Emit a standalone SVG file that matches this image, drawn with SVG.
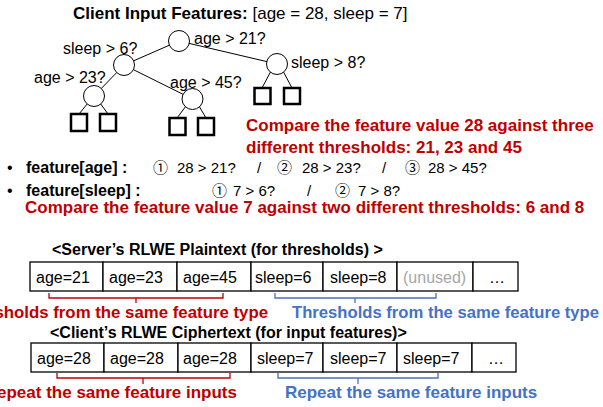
<svg xmlns="http://www.w3.org/2000/svg" width="603" height="407" viewBox="0 0 603 407">
<style>
text{font-family:"Liberation Sans",Arial,sans-serif;fill:#000}
.lbl{font-size:16px}
.b{font-weight:bold}
.red{fill:#C00000;font-weight:bold;font-size:17px}
.blue{fill:#4472C4;font-weight:bold;font-size:17px}
.cd{font-family:"Noto Sans CJK JP","DejaVu Sans",sans-serif;font-size:15px}
.n{font-size:15px}
.node{fill:#fff;stroke:#000;stroke-width:1}
.leaf{fill:#fff;stroke:#000;stroke-width:2.5}
.edge{stroke:#000;stroke-width:1;fill:none}
.cell{fill:#fff;stroke:#000;stroke-width:1.3}
.rb{fill:none;stroke:#C00000;stroke-width:1.3}
.bb{fill:none;stroke:#4472C4;stroke-width:1.3}
</style>
<text x="73" y="19" style="font-size:17px"><tspan class="b">Client Input Features:</tspan> [age = 28, sleep = 7]</text>
<g id="connectors">
<line class="edge" x1="179" y1="41" x2="124" y2="65"/>
<line class="edge" x1="179" y1="41" x2="277" y2="64"/>
<line class="edge" x1="124" y1="65" x2="94" y2="96"/>
<line class="edge" x1="124" y1="65" x2="192.5" y2="99"/>
<line class="edge" x1="88" y1="103" x2="79" y2="114"/>
<line class="edge" x1="100" y1="103" x2="108" y2="114"/>
<line class="edge" x1="186" y1="106" x2="177" y2="118"/>
<line class="edge" x1="199" y1="106" x2="206" y2="118"/>
<line class="edge" x1="271" y1="71" x2="262" y2="88"/>
<line class="edge" x1="283" y1="71" x2="292" y2="88"/>
</g>
<g id="n-root"><circle class="node" cx="179" cy="41" r="10.5"/><text class="lbl" x="194" y="44">age &gt; 21?</text></g>
<g id="n-left"><circle class="node" cx="124" cy="65" r="10.5"/><text class="lbl" x="63" y="54">sleep &gt; 6?</text></g>
<g id="n-right"><circle class="node" cx="277" cy="64" r="10.5"/><text class="lbl" x="291" y="68">sleep &gt; 8?</text></g>
<g id="n-ll"><circle class="node" cx="94" cy="96" r="10.5"/><text class="lbl" x="34" y="83">age &gt; 23?</text></g>
<g id="n-lr"><circle class="node" cx="192.5" cy="99" r="10.5"/><text class="lbl" x="170" y="88">age &gt; 45?</text></g>
<g id="leaf1"><rect class="leaf" x="71" y="114" width="16" height="17"/></g>
<g id="leaf2"><rect class="leaf" x="100" y="114" width="16" height="17"/></g>
<g id="leaf3"><rect class="leaf" x="169.5" y="118" width="16" height="17"/></g>
<g id="leaf4"><rect class="leaf" x="198" y="118" width="16" height="17"/></g>
<g id="leaf5"><rect class="leaf" x="254.5" y="88" width="16" height="16"/></g>
<g id="leaf6"><rect class="leaf" x="284" y="88" width="16" height="16"/></g>
<text class="red" x="246" y="131">Compare the feature value 28 against three</text>
<text class="red" x="246" y="153">different thresholds: 21, 23 and 45</text>
<text x="7" y="173" style="font-size:16px">•</text>
<text class="b" x="26" y="173" style="font-size:16px">feature[age] :</text>
<text class="cd" x="153" y="173">①</text><text class="n" x="177" y="173">28 &gt; 21?</text>
<text class="n" x="257" y="173">/</text>
<text class="cd" x="277" y="173">②</text><text class="n" x="302" y="173">28 &gt; 23?</text>
<text class="n" x="382" y="173">/</text>
<text class="cd" x="405" y="173">③</text><text class="n" x="428" y="173">28 &gt; 45?</text>
<text x="7" y="196" style="font-size:16px">•</text>
<text class="b" x="26" y="196" style="font-size:16px">feature[sleep] :</text>
<text class="cd" x="212" y="196">①</text><text class="n" x="233" y="196">7 &gt; 6?</text>
<text class="n" x="307" y="196">/</text>
<text class="cd" x="335" y="196">②</text><text class="n" x="358" y="196">7 &gt; 8?</text>
<text class="red" x="25" y="213">Compare the feature value 7 against two different thresholds: 6 and 8</text>
<text class="b" x="52" y="255" style="font-size:16px">&lt;Server’s RLWE Plaintext (for thresholds) &gt;</text>
<g id="plain">
<rect class="cell" x="30" y="262" width="73" height="29"/>
<rect class="cell" x="103" y="262" width="74" height="29"/>
<rect class="cell" x="177" y="262" width="74" height="29"/>
<rect class="cell" x="251" y="262" width="72" height="29"/>
<rect class="cell" x="323" y="262" width="74" height="29"/>
<rect class="cell" x="397" y="262" width="76" height="29"/>
<rect class="cell" x="473" y="262" width="45" height="29"/>
<text class="lbl" x="36" y="283">age=21</text>
<text class="lbl" x="109" y="283">age=23</text>
<text class="lbl" x="183" y="283">age=45</text>
<text class="lbl" x="255" y="283">sleep=6</text>
<text class="lbl" x="330" y="283">sleep=8</text>
<text class="lbl" x="403" y="283" style="fill:#A6A6A6">(unused)</text>
<text class="lbl" x="489" y="283">…</text>
</g>
<path class="rb" d="M49,293 V298 H223 V293 M136,298 V303"/>
<path class="bb" d="M275,293 V298 H436 V293 M355,298 V303"/>
<text class="red" x="268" y="318" text-anchor="end" textLength="310" lengthAdjust="spacingAndGlyphs">Thresholds from the same feature type</text>
<text class="blue" x="292" y="318" textLength="307" lengthAdjust="spacingAndGlyphs">Thresholds from the same feature type</text>
<text class="b" x="50" y="338" style="font-size:16px">&lt;Client’s RLWE Ciphertext (for input features)&gt;</text>
<g id="cipher">
<rect class="cell" x="31" y="343" width="73" height="29"/>
<rect class="cell" x="104" y="343" width="74" height="29"/>
<rect class="cell" x="178" y="343" width="73" height="29"/>
<rect class="cell" x="251" y="343" width="72" height="29"/>
<rect class="cell" x="323" y="343" width="74" height="29"/>
<rect class="cell" x="397" y="343" width="75" height="29"/>
<rect class="cell" x="472" y="343" width="44" height="29"/>
<text class="lbl" x="37" y="364">age=28</text>
<text class="lbl" x="110" y="364">age=28</text>
<text class="lbl" x="183" y="364">age=28</text>
<text class="lbl" x="257" y="364">sleep=7</text>
<text class="lbl" x="330" y="364">sleep=7</text>
<text class="lbl" x="403" y="364">sleep=7</text>
<text class="lbl" x="488" y="364">…</text>
</g>
<path class="rb" d="M57,373 V378 H230 V373 M143,378 V384"/>
<path class="bb" d="M278,373 V378 H438 V373 M358,378 V384"/>
<text class="red" x="237" y="398" text-anchor="end">Repeat the same feature inputs</text>
<text class="blue" x="285" y="398">Repeat the same feature inputs</text>
</svg>
